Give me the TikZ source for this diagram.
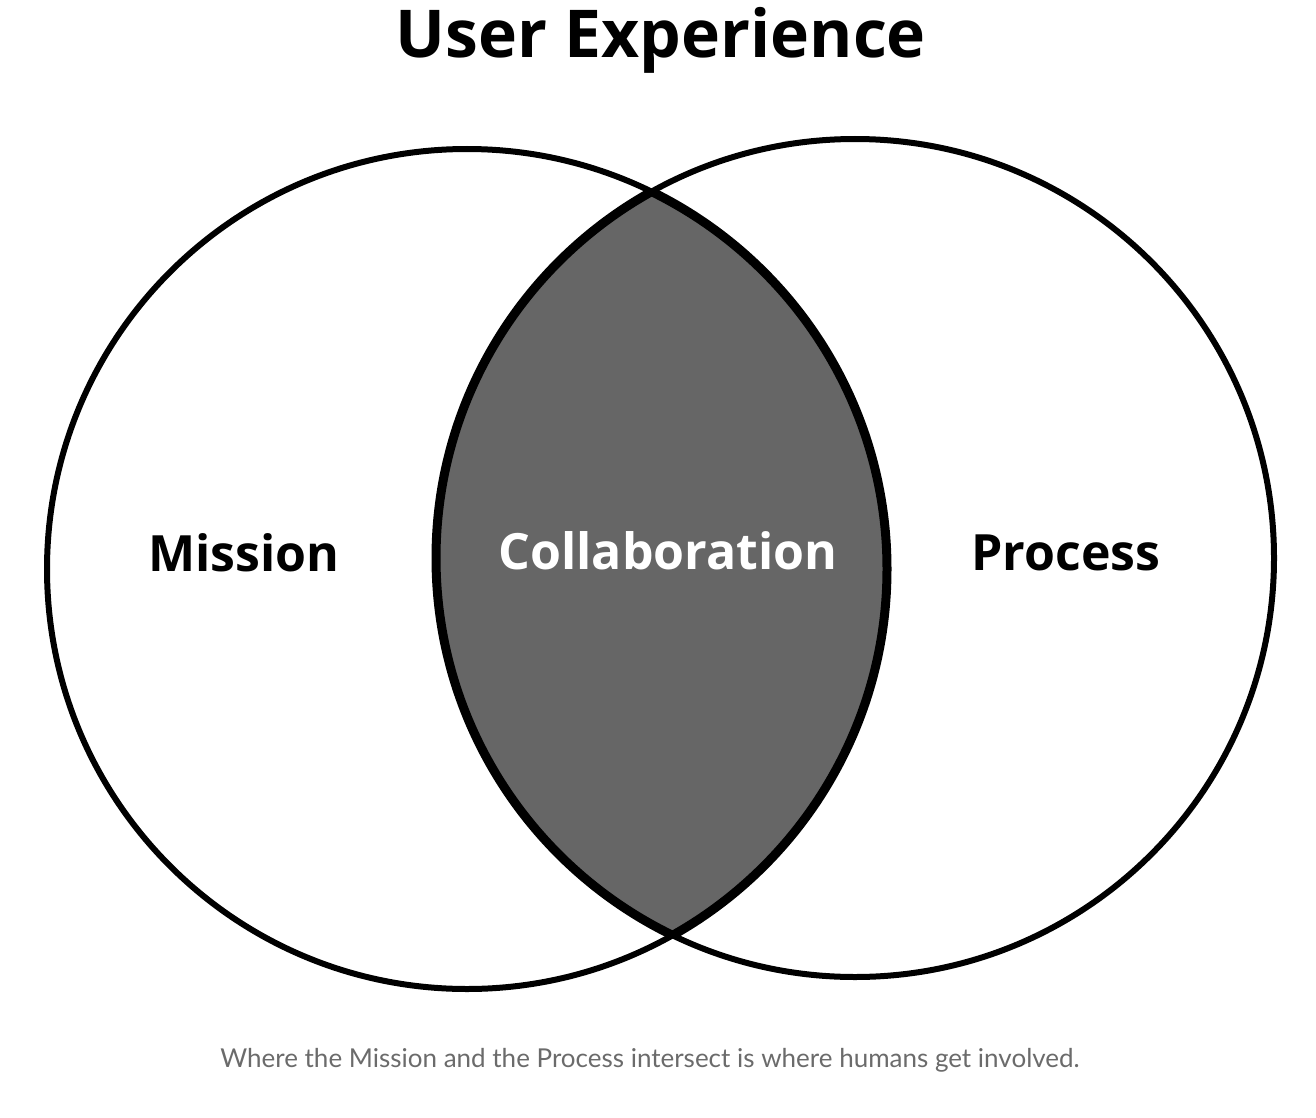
\documentclass[tikz,border=0pt]{standalone}
\usepackage{fontspec}
\setmainfont{Open Sans}
\newfontfamily\capfont{Lato}
\definecolor{lens}{HTML}{666666}
\definecolor{captxt}{HTML}{6B6B6B}
\begin{document}
\begin{tikzpicture}[x=1pt,y=-1pt,
  ring/.style={draw=black,line width=6pt},
  lbl/.style={font=\fontsize{50}{56}\selectfont\bfseries}]
\useasboundingbox (0,0) rectangle (1316,1118);
\coordinate (L) at (467,569);
\coordinate (R) at (855,558);
\begin{scope}
 \clip (L) circle (420);
 \fill[lens] (R) circle (419);
\end{scope}
\begin{scope}
 \clip (L) circle (420);
 \draw[line width=9pt] (R) circle (419);
\end{scope}
\begin{scope}
 \clip (R) circle (419);
 \draw[line width=9pt] (L) circle (420);
\end{scope}
\draw[ring] (L) circle (420);
\draw[ring] (R) circle (419);
\node[font=\fontsize{66}{72}\selectfont\bfseries] (title) at (661,40) {User Experience};
\node[lbl] (m) at (244,553) {Mission};
\node[lbl,text=white] (c) at (668,551) {Collaboration};
\node[lbl] (p) at (1066,553) {Process};
\node[font=\capfont\fontsize{26}{30}\selectfont,text=captxt] (cap) at (650,1060) {Where the Mission and the Process intersect is where humans get involved.};
\end{tikzpicture}
\end{document}
